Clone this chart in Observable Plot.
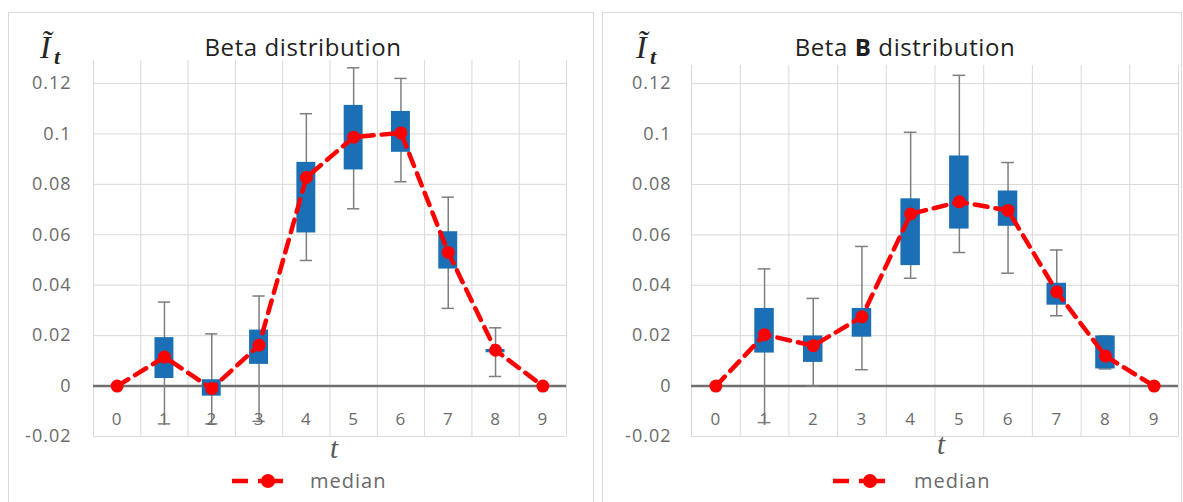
<!DOCTYPE html>
<html>
<head>
<meta charset="utf-8">
<script src="https://cdn.jsdelivr.net/npm/d3@7"></script>
<script src="https://cdn.jsdelivr.net/npm/@observablehq/plot@0.6"></script>
<style>
  body { margin: 0; background: #fff; }
  #root { position: relative; width: 1183px; height: 502px; overflow: hidden; background: #fff; }
  .panel { position: absolute; border: 1px solid #d9d9d9; box-sizing: border-box; }
  .chart { position: absolute; top: 0; }
  .title { position: absolute; width: 400px; text-align: center; font-family: 'Open Sans', sans-serif; font-size: 24px; line-height: 24px; letter-spacing: 0.6px; color: #1f1f1f; white-space: nowrap; }
  .ylab { position: absolute; font-family: 'Liberation Serif', serif; font-style: italic; color: #262626; line-height: 1; }
  .xlab { position: absolute; width: 40px; text-align: center; font-family: 'Liberation Serif', serif; font-style: italic; font-size: 29px; line-height: 29px; color: #595959; }
  .legtext { position: absolute; font-family: 'Open Sans', sans-serif; font-size: 20px; line-height: 20px; letter-spacing: 1px; color: #6a6a6a; }
  .legsw { position: absolute; }
</style>
</head>
<body>
<div id="root">
  <div class="panel" style="left:8px; top:12px; width:586px; height:500px;"></div>
  <div class="panel" style="left:602px; top:12px; width:580px; height:500px;"></div>
  <div id="left" class="chart" style="left:0px;"></div>
  <div id="right" class="chart" style="left:600px;"></div>

  <div class="title" style="left:103px; top:35px;">Beta distribution</div>
  <div class="title" style="left:705px; top:35px;">Beta <b>B</b> distribution</div>

  <div class="ylab" style="left:40px; top:31px; font-size:32px;">Ĩ</div>
  <div class="ylab" style="left:54px; top:46px; font-size:22px; font-weight:bold;">t</div>
  <div class="ylab" style="left:636px; top:31px; font-size:32px;">Ĩ</div>
  <div class="ylab" style="left:650px; top:46px; font-size:22px; font-weight:bold;">t</div>

  <div class="xlab" style="left:314px; top:434px;">t</div>
  <div class="xlab" style="left:921px; top:430px;">t</div>

  <svg class="legsw" style="left:0; top:0;" width="1183" height="502" pointer-events="none">
    <g stroke="#ff0000" stroke-width="4.5">
      <line x1="232" x2="248" y1="481" y2="481"></line>
      <line x1="258" x2="283" y1="481" y2="481"></line>
      <line x1="833" x2="849" y1="481" y2="481"></line>
      <line x1="859" x2="885" y1="481" y2="481"></line>
    </g>
    <circle cx="268" cy="481" r="7" fill="#ff0000"></circle>
    <circle cx="870" cy="481" r="7" fill="#ff0000"></circle>
  </svg>
  <div class="legtext" style="left:310px; top:471px;">median</div>
  <div class="legtext" style="left:914px; top:471px;">median</div>
</div>

<script>
// ---- data ----
const tVals = [0, 1, 2, 3, 4, 5, 6, 7, 8, 9];
const yTicks = [-0.02, 0, 0.02, 0.04, 0.06, 0.08, 0.1, 0.12];

// Beta distribution
const betaMedian = [0, 0.0115, -0.001, 0.0162, 0.0827, 0.0987, 0.1004, 0.053, 0.0142, 0];
const betaQ1     = [null, 0.003, -0.004, 0.0086, 0.0607, 0.0857, 0.0927, 0.0464, 0.0132, null];
const betaQ3     = [null, 0.0192, 0.0025, 0.0222, 0.0887, 0.1113, 0.1089, 0.0612, 0.0145, null];
const betaMin    = [null, -0.015, -0.015, -0.014, 0.0498, 0.0703, 0.081, 0.0308, 0.0038, null];
const betaMax    = [null, 0.0333, 0.0207, 0.0357, 0.108, 0.1262, 0.122, 0.0749, 0.0231, null];

// Beta B distribution
const bbMedian = [0, 0.0204, 0.016, 0.0275, 0.0683, 0.0731, 0.0697, 0.0374, 0.0119, 0];
const bbQ1     = [null, 0.0131, 0.0094, 0.0194, 0.0478, 0.0623, 0.0634, 0.0321, 0.0068, null];
const bbQ3     = [null, 0.0308, 0.0199, 0.0308, 0.0743, 0.0913, 0.0774, 0.0408, 0.0199, null];
const bbMin    = [null, -0.0145, 0, 0.0065, 0.0428, 0.053, 0.0448, 0.0279, 0.0068, null];
const bbMax    = [null, 0.0465, 0.0348, 0.0554, 0.1007, 0.1233, 0.0887, 0.054, 0.0199, null];

// ---- build ----
function rowsOf(median, q1, q3, lo, hi) {
  return tVals.map((t, i) => ({t, median: median[i], q1: q1[i], q3: q3[i], lo: lo[i], hi: hi[i]}));
}

const edges = tVals.map(t => t - 0.5).concat([tVals[tVals.length - 1] + 0.5]);
const fmt = d => String(d);

function chart({rows, width, marginLeft, marginRight, marginTop, yTop, tickPadding}) {
  const boxes = rows.filter(d => d.q1 != null);
  const grid = "#d9d9d9";
  const whisk = "#7f7f7f";
  return Plot.plot({
    width, height: 502,
    marginLeft, marginRight, marginTop, marginBottom: 66,
    x: {domain: [-0.5, 9.5], label: null},
    y: {domain: [-0.02, yTop], label: null},
    style: {fontFamily: "'Open Sans', sans-serif", color: "#6b6b6b", background: "transparent", letterSpacing: "1px", overflow: "visible"},
    marks: [
      Plot.ruleY(yTicks.filter(v => v !== 0), {stroke: grid, strokeWidth: 1}),
      Plot.ruleX(edges, {y1: -0.02, y2: yTop, stroke: grid, strokeWidth: 1}),
      Plot.ruleY([0], {stroke: "#6f6f6f", strokeWidth: 2.5}),
      Plot.ruleX(boxes, {x: "t", y1: "lo", y2: "hi", stroke: whisk, strokeWidth: 1.5}),
      Plot.ruleY(boxes, {y: "hi", x1: d => d.t - 0.13, x2: d => d.t + 0.13, stroke: whisk, strokeWidth: 1.5}),
      Plot.ruleY(boxes, {y: "lo", x1: d => d.t - 0.13, x2: d => d.t + 0.13, stroke: whisk, strokeWidth: 1.5}),
      Plot.rect(boxes, {x1: d => d.t - 0.2, x2: d => d.t + 0.2, y1: "q1", y2: "q3", fill: "#1a6fb5"}),
      Plot.line(rows, {x: "t", y: "median", stroke: "#ff0000", strokeWidth: 4.5, strokeDasharray: "13,8"}),
      Plot.dot(rows, {x: "t", y: "median", r: 6.5, fill: "#ff0000"}),
      Plot.axisY(yTicks, {tickSize: 0, tickPadding, tickFormat: fmt, fontSize: 18, label: null}),
      Plot.axisX(tVals, {tickSize: 0, tickPadding: 0, dy: -24, fontSize: 17, label: null})
    ]
  });
}

document.getElementById("left").append(chart({
  rows: rowsOf(betaMedian, betaQ1, betaQ3, betaMin, betaMax),
  width: 590, marginLeft: 93, marginRight: 24, marginTop: 60, yTop: 0.1291, tickPadding: 22
}));
document.getElementById("right").append(chart({
  rows: rowsOf(bbMedian, bbQ1, bbQ3, bbMin, bbMax),
  width: 583, marginLeft: 91, marginRight: 5, marginTop: 65, yTop: 0.1272, tickPadding: 20
}));
</script>
</body>
</html>
